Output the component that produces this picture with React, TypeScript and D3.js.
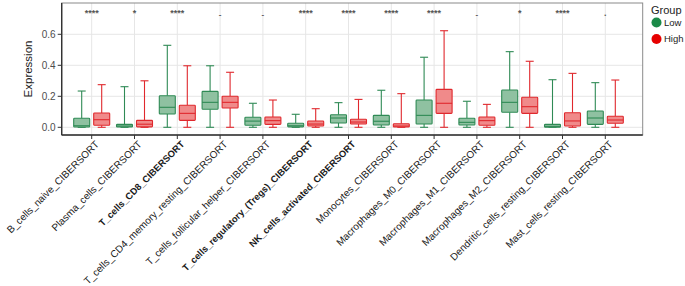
import React from "react";
import * as d3 from "d3";

const categories = [
  "B_cells_naive_CIBERSORT",
  "Plasma_cells_CIBERSORT",
  "T_cells_CD8_CIBERSORT",
  "T_cells_CD4_memory_resting_CIBERSORT",
  "T_cells_follicular_helper_CIBERSORT",
  "T_cells_regulatory_(Tregs)_CIBERSORT",
  "NK_cells_activated_CIBERSORT",
  "Monocytes_CIBERSORT",
  "Macrophages_M0_CIBERSORT",
  "Macrophages_M1_CIBERSORT",
  "Macrophages_M2_CIBERSORT",
  "Dendritic_cells_resting_CIBERSORT",
  "Mast_cells_resting_CIBERSORT",
];
const boldCategories = [
  "T_cells_CD8_CIBERSORT",
  "T_cells_regulatory_(Tregs)_CIBERSORT",
  "NK_cells_activated_CIBERSORT",
];
const significance = ["****", "*", "****", "-", "-", "****", "****", "****", "****", "-", "*", "****", "."];

// [min, q1, median, q3, max]
const lowStats = [
  [0, 0.002, 0.01, 0.058, 0.234],
  [0, 0.002, 0.008, 0.019, 0.262],
  [0, 0.086, 0.129, 0.204, 0.529],
  [0, 0.116, 0.161, 0.232, 0.397],
  [0, 0.013, 0.04, 0.065, 0.155],
  [0, 0.003, 0.01, 0.026, 0.084],
  [0, 0.028, 0.06, 0.081, 0.159],
  [0, 0.015, 0.039, 0.077, 0.239],
  [0, 0.021, 0.077, 0.176, 0.452],
  [0, 0.015, 0.032, 0.058, 0.168],
  [0, 0.097, 0.161, 0.241, 0.488],
  [0, 0.0, 0.006, 0.019, 0.307],
  [0, 0.019, 0.06, 0.105, 0.288],
];
const highStats = [
  [0, 0.013, 0.049, 0.092, 0.275],
  [0, 0.003, 0.02, 0.045, 0.3],
  [0, 0.045, 0.09, 0.142, 0.397],
  [0, 0.125, 0.161, 0.2, 0.355],
  [0, 0.019, 0.043, 0.066, 0.176],
  [0, 0.008, 0.021, 0.041, 0.12],
  [0, 0.021, 0.034, 0.052, 0.18],
  [0, 0.002, 0.008, 0.023, 0.217],
  [0, 0.09, 0.155, 0.245, 0.623],
  [0, 0.013, 0.043, 0.066, 0.148],
  [0, 0.09, 0.133, 0.194, 0.426],
  [0, 0.008, 0.041, 0.094, 0.348],
  [0, 0.026, 0.047, 0.071, 0.305],
];
const yTicks = [0, 0.2, 0.4, 0.6];
const groups = ["Low", "High"];

const W = 685;
const H = 286;
const panel = { left: 61.7, right: 642.7, top: 3, bottom: 135 };

const groupStyle: Record<string, { fill: string; stroke: string; dot: string }> = {
  Low: { fill: "#8fc1a1", stroke: "#2f8a55", dot: "#1b8a48" },
  High: { fill: "#f08a8a", stroke: "#e0282d", dot: "#e60000" },
};

export default function App() {
  const x = d3.scalePoint<string>().domain(categories).range([91.7, 605.3]);
  const y = d3.scaleLinear().domain([0, 0.6]).range([127.3, 34.3]);
  const dodge = d3.scaleBand<string>().domain(groups).range([-20, 20]).paddingInner(0.2).paddingOuter(0.1);
  const bw = dodge.bandwidth();
  const font = "Liberation Sans, Arial, sans-serif";

  const boxes = (stats: number[][], g: string) =>
    categories.map((c, i) => {
      const [mn, q1, md, q3, mx] = stats[i];
      const cx = (x(c) as number) + (dodge(g) as number) + bw / 2;
      const st = groupStyle[g];
      const cap = bw / 2;
      return (
        <g key={g + c} stroke={st.stroke} strokeWidth={1.1} fill="none">
          <line x1={cx} x2={cx} y1={y(mx)} y2={y(q3)} />
          <line x1={cx} x2={cx} y1={y(q1)} y2={y(mn)} />
          <line x1={cx - cap / 2} x2={cx + cap / 2} y1={y(mx)} y2={y(mx)} />
          <line x1={cx - cap / 2} x2={cx + cap / 2} y1={y(mn)} y2={y(mn)} />
          <rect x={cx - bw / 2} y={y(q3)} width={bw} height={Math.max(y(q1) - y(q3), 0.5)} fill={st.fill} rx={0.8} />
          <line x1={cx - bw / 2} x2={cx + bw / 2} y1={y(md)} y2={y(md)} />
        </g>
      );
    });

  return (
    <svg width={W} height={H} style={{ position: "absolute", left: 0, top: 0, background: "#fff" }} fontFamily={font}>
      {/* grid */}
      {yTicks.map((t) => (
        <line key={"gy" + t} x1={panel.left} x2={panel.right} y1={y(t)} y2={y(t)} stroke="#e6e6e6" strokeWidth={1} />
      ))}
      {categories.map((c) => (
        <line key={"gx" + c} x1={x(c)} x2={x(c)} y1={panel.top} y2={panel.bottom} stroke="#e6e6e6" strokeWidth={1} />
      ))}
      {/* panel border */}
      <rect x={panel.left} y={panel.top} width={panel.right - panel.left} height={panel.bottom - panel.top} fill="none" stroke="#8a8a8a" strokeWidth={1} />
      <line x1={panel.left} x2={panel.left} y1={panel.top} y2={panel.bottom} stroke="#333" strokeWidth={1.4} />
      <line x1={panel.left} x2={panel.right} y1={panel.bottom} y2={panel.bottom} stroke="#333" strokeWidth={1.4} />
      {boxes(lowStats, "Low")}
      {boxes(highStats, "High")}
      {/* significance */}
      {categories.map((c, i) => (
        <text key={"s" + c} x={x(c)} y={significance[i] === "-" ? 17 : 16} textAnchor="middle" fontSize={significance[i] === "-" ? 8 : 9} fill="#555" fontWeight="bold">
          {significance[i]}
        </text>
      ))}
      {/* y axis */}
      {yTicks.map((t) => (
        <g key={"yt" + t}>
          <line x1={panel.left - 4} x2={panel.left} y1={y(t)} y2={y(t)} stroke="#333" strokeWidth={1} />
          <text x={panel.left - 6} y={y(t)} dy="0.35em" textAnchor="end" fontSize={10} fill="#4d4d4d">
            {t.toFixed(1)}
          </text>
        </g>
      ))}
      <text transform={`translate(31.5,${(panel.top + panel.bottom) / 2}) rotate(-90)`} textAnchor="middle" fontSize={11.5} fill="#222">
        Expression
      </text>
      {/* x axis */}
      {categories.map((c) => {
        const bold = boldCategories.includes(c);
        return (
          <g key={"xt" + c}>
            <line x1={x(c)} x2={x(c)} y1={panel.bottom} y2={panel.bottom + 4} stroke="#333" strokeWidth={1} />
            <text
              transform={`translate(${(x(c) as number) + 3},${panel.bottom + 5}) rotate(-45)`}
              textAnchor="end"
              dy="0.7em"
              fontSize={bold ? 9.4 : 10}
              fill="#1a1a1a"
              fontWeight={bold ? "bold" : "normal"}
            >
              {c}
            </text>
          </g>
        );
      })}
      {/* legend */}
      <text x={651} y={14} fontSize={11} fill="#222">Group</text>
      {groups.map((g, i) => (
        <g key={"lg" + g}>
          <circle cx={656.5} cy={22.5 + i * 16.5} r={5} fill={groupStyle[g].dot} />
          <text x={664} y={22.5 + i * 16.5} dy="0.35em" fontSize={9.5} fill="#222">{g}</text>
        </g>
      ))}
    </svg>
  );
}
